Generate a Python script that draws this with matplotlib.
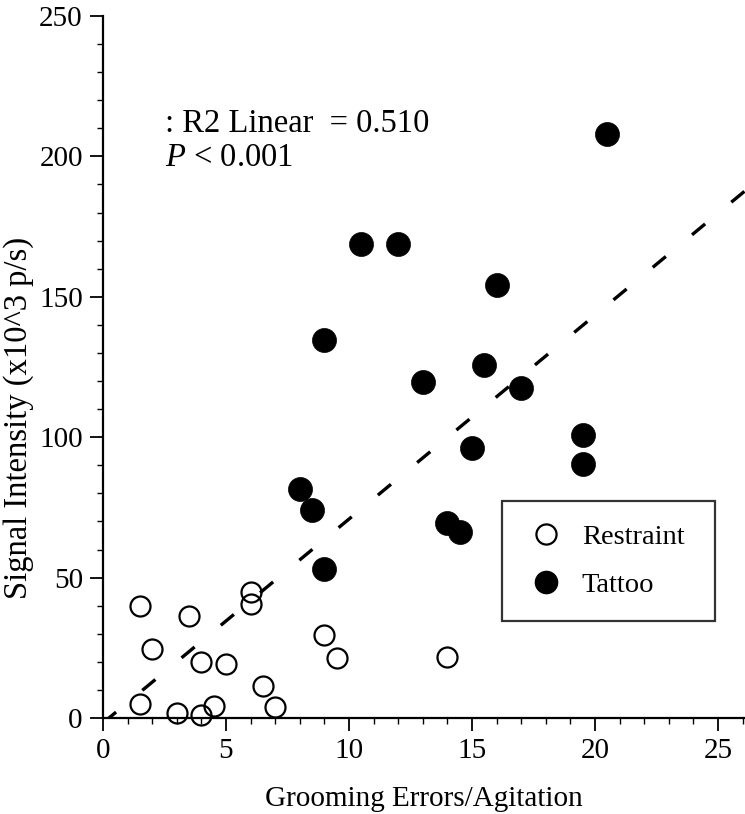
import matplotlib
matplotlib.use("Agg")
import matplotlib.pyplot as plt
from matplotlib.ticker import MultipleLocator
from matplotlib.lines import Line2D

# ---- data ----
restraint_x = [1.5, 3.5, 6.0, 6.0, 2.0, 4.0, 5.0, 1.5, 3.0, 4.0, 4.5, 6.5, 7.0, 9.0, 9.5, 14.0]
restraint_y = [39.8, 36.4, 44.8, 40.6, 24.5, 20.1, 19.3, 5.0, 1.7, 1.1, 4.4, 11.4, 4.0, 29.5, 21.2, 21.8]

tattoo_x = [20.5, 10.5, 12.0, 16.0, 9.0, 15.5, 13.0, 17.0, 15.0, 19.5, 19.5, 14.0, 14.5, 8.0, 8.5, 9.0]
tattoo_y = [207.9, 168.7, 168.7, 154.3, 134.6, 125.7, 119.5, 117.6, 96.0, 100.7, 90.6, 69.5, 66.3, 81.4, 74.0, 53.0]

fit_slope = 7.26
fit_intercept = -1.75

x_label = "Grooming Errors/Agitation"
y_label = "Signal Intensity (x10^3 p/s)"
legend_labels = ["Restraint", "Tattoo"]

# ---- figure ----
W, H, DPI = 745, 814, 100
fig = plt.figure(figsize=(W / DPI, H / DPI), dpi=DPI)
plt.rcParams['font.family'] = ['Liberation Serif', 'DejaVu Serif']
plt.rcParams['mathtext.fontset'] = 'custom'
plt.rcParams['mathtext.rm'] = 'Liberation Serif'
plt.rcParams['mathtext.it'] = 'Liberation Serif:italic'

left_px, right_px, top_px, bottom_px = 103, 745, 16, 718
ax = fig.add_axes([left_px / W, (H - bottom_px) / H,
                   (right_px - left_px) / W, (bottom_px - top_px) / H])

xmax = (right_px - left_px) / 24.6
ax.set_xlim(0, xmax)
ax.set_ylim(0, 250)

for s in ['top', 'right']:
    ax.spines[s].set_visible(False)
for s in ['left', 'bottom']:
    ax.spines[s].set_linewidth(1.6)

ax.xaxis.set_major_locator(MultipleLocator(5))
ax.xaxis.set_minor_locator(MultipleLocator(1))
ax.yaxis.set_major_locator(MultipleLocator(50))
ax.yaxis.set_minor_locator(MultipleLocator(10))
ax.tick_params(which='major', length=9.5, width=1.3, labelsize=21, direction='out', pad=5)
ax.tick_params(which='minor', length=4.5, width=1.0, direction='out')

# regression line
xs = [0, xmax]
ys = [fit_intercept + fit_slope * v for v in xs]
lw = 2.4
ax.plot(xs, ys, color='black', lw=lw, dashes=(5.1, 10.2), zorder=2, clip_on=True)

ms_open = 14.4
ms_fill = 17.3
ax.plot(restraint_x, restraint_y, 'o', ms=ms_open, mfc='none', mec='black', mew=1.6,
        clip_on=False, zorder=3)
ax.plot(tattoo_x, tattoo_y, 'o', ms=ms_fill, mfc='black', mec='black', mew=0.5,
        clip_on=False, zorder=3)

ax.set_xlabel(x_label, fontsize=21, labelpad=16)
ax.set_ylabel(y_label, fontsize=23.5)
ax.yaxis.set_label_coords((34 - left_px) / (right_px - left_px),
                          (bottom_px - 418) / (bottom_px - top_px))

ax.text((165 - left_px) / (right_px - left_px), 1 - (132 - top_px) / (bottom_px - top_px),
        ": R2 Linear  = 0.510", transform=ax.transAxes, fontsize=23.5, va='baseline')
ax.text((165 - left_px) / (right_px - left_px), 1 - (166 - top_px) / (bottom_px - top_px),
        r"$\it{P}$ < 0.001", transform=ax.transAxes, fontsize=23.5, va='baseline')

handles = [
    Line2D([], [], ls='none', marker='o', ms=14.5, mfc='none', mec='black', mew=1.6),
    Line2D([], [], ls='none', marker='o', ms=16, mfc='black', mec='black'),
]
leg = ax.legend(handles, legend_labels, loc='lower left',
                bbox_to_anchor=((502 - left_px) / (right_px - left_px),
                                (bottom_px - 621) / (bottom_px - top_px),
                                (715 - 502) / (right_px - left_px),
                                (621 - 507) / (bottom_px - top_px)),
                mode='expand', fontsize=20.5, frameon=True, fancybox=False,
                edgecolor='black', handletextpad=0.5, labelspacing=0.8,
                borderpad=0.8, handlelength=1.5, borderaxespad=0)
leg.get_frame().set_linewidth(1.6)

fig.savefig("out.png", dpi=DPI)
